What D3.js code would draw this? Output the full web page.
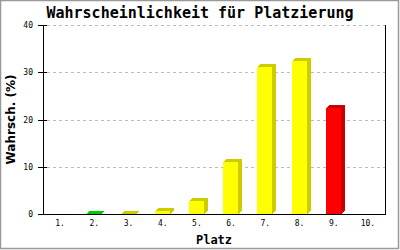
<!DOCTYPE html>
<meta charset="utf-8">
<script src="https://d3js.org/d3.v7.min.js"></script>
<style>
  body { margin: 0; background: #fff; }
  .tick-label { font-family: "DejaVu Sans Mono", monospace; font-size: 8px; fill: #000; }
</style>
<svg></svg>
<script>

// DATA

var places = ["1.", "2.", "3.", "4.", "5.", "6.", "7.", "8.", "9.", "10."];
var chances = [0, 0.05, 0.1, 0.6, 2.7, 11.1, 31.1, 32.3, 22.4, 0];
var yTicks = [0, 10, 20, 30, 40];

// front colour / shaded colour for each bar
var frontColors = ["#ffff00", "#00ee00", "#ffff00", "#ffff00", "#ffff00", "#ffff00", "#ffff00", "#ffff00", "#ff0000", "#ffff00"];
var shadeColors = ["#cccc00", "#00cc00", "#cccc00", "#cccc00", "#cccc00", "#cccc00", "#cccc00", "#cccc00", "#cc0000", "#cccc00"];

var width = 400;
var height = 250;
var margin = {top: 25, left: 43, right: 15, bottom: 36};
var depthX = 4, depthY = 3, barW = 15;

var svg = d3.select("svg")
    .attr("width", width)
    .attr("height", height);

// outer frame
svg.append("rect")
    .attr("x", 0.5).attr("y", 0.5)
    .attr("width", width - 2).attr("height", height - 2)
    .attr("fill", "#fff")
    .attr("stroke", "#999")
    .attr("stroke-width", 1.5);

var x = d3.scaleBand()
    .domain(places)
    .range([margin.left, width - margin.right]);

var y = d3.scaleLinear()
    .domain([0, 40])
    .range([height - margin.bottom, margin.top]);

var x0 = margin.left, x1 = width - margin.right;
var y0 = y(0);

// GRID

svg.append("g")
    .selectAll("line")
    .data(yTicks.filter(function(d) { return d > 0; }))
    .enter().append("line")
        .attr("x1", x0 + 4).attr("x2", x1)
        .attr("y1", function(d) { return Math.round(y(d)) + 0.5; })
        .attr("y2", function(d) { return Math.round(y(d)) + 0.5; })
        .attr("stroke", "#bbb")
        .attr("stroke-dasharray", "3,3");

// BARS

var bars = svg.append("g")
    .attr("shape-rendering", "crispEdges")
    .selectAll("g")
    .data(places.map(function(p, i) { return {place: p, value: chances[i], i: i}; })
        .filter(function(d) { return d.value > 0; }))
    .enter().append("g");

function bx(d) { return Math.round(x(d.place) + x.bandwidth() / 2 - 8); }

bars.append("polygon")
    .attr("fill", function(d) { return shadeColors[d.i]; })
    .attr("points", function(d) {
        var l = bx(d), r = l + barW, t = Math.round(y(d.value));
        return [[l, t], [l + depthX, t - depthY], [r + depthX, t - depthY], [r + depthX, y0 - depthY], [r, y0], [r, t]].join(" ");
    });

bars.append("rect")
    .attr("x", bx)
    .attr("y", function(d) { return Math.round(y(d.value)); })
    .attr("width", barW)
    .attr("height", function(d) { return y0 - Math.round(y(d.value)); })
    .attr("fill", function(d) { return frontColors[d.i]; });

// AXES

svg.append("line")
    .attr("x1", x0 + 0.5).attr("x2", x0 + 0.5)
    .attr("y1", margin.top).attr("y2", y0)
    .attr("stroke", "#000");
svg.append("line")
    .attr("x1", x1 + 0.5).attr("x2", x1 + 0.5)
    .attr("y1", margin.top).attr("y2", y0)
    .attr("stroke", "#000");
svg.append("line")
    .attr("x1", x0).attr("x2", x1 + 1)
    .attr("y1", Math.round(y0) + 0.5).attr("y2", Math.round(y0) + 0.5)
    .attr("stroke", "#000");

var yt = svg.append("g").selectAll("g")
    .data(yTicks).enter().append("g");
yt.append("line")
    .attr("x1", x0 - 5).attr("x2", x0 + 4)
    .attr("y1", function(d) { return Math.round(y(d)) + 0.5; })
    .attr("y2", function(d) { return Math.round(y(d)) + 0.5; })
    .attr("stroke", "#000");
yt.append("text")
    .attr("class", "tick-label")
    .attr("x", x0 - 10)
    .attr("y", function(d) { return y(d) + 3; })
    .attr("text-anchor", "end")
    .text(function(d) { return d; });

svg.append("g").selectAll("text")
    .data(places).enter().append("text")
        .attr("class", "tick-label")
        .attr("x", function(d) { return x(d) + x.bandwidth() / 2; })
        .attr("y", y0 + 12)
        .attr("text-anchor", "middle")
        .text(function(d) { return d; });

// TITLES

svg.append("text")
    .attr("x", width / 2)
    .attr("y", 18)
    .attr("text-anchor", "middle")
    .style("font-family", "'DejaVu Sans Mono', monospace")
    .style("font-size", "15px")
    .style("font-weight", "bold")
    .text("Wahrscheinlichkeit für Platzierung");

svg.append("text")
    .attr("x", (x0 + x1) / 2)
    .attr("y", 244)
    .attr("text-anchor", "middle")
    .style("font-family", "'DejaVu Sans Mono', monospace")
    .style("font-size", "12px")
    .style("font-weight", "bold")
    .text("Platz");

svg.append("text")
    .attr("transform", "translate(15," + ((margin.top + y0) / 2) + ") rotate(-90)")
    .attr("text-anchor", "middle")
    .style("font-family", "'DejaVu Sans', sans-serif")
    .style("font-size", "12px")
    .style("font-weight", "bold")
    .text("Wahrsch. (%)");

</script>
